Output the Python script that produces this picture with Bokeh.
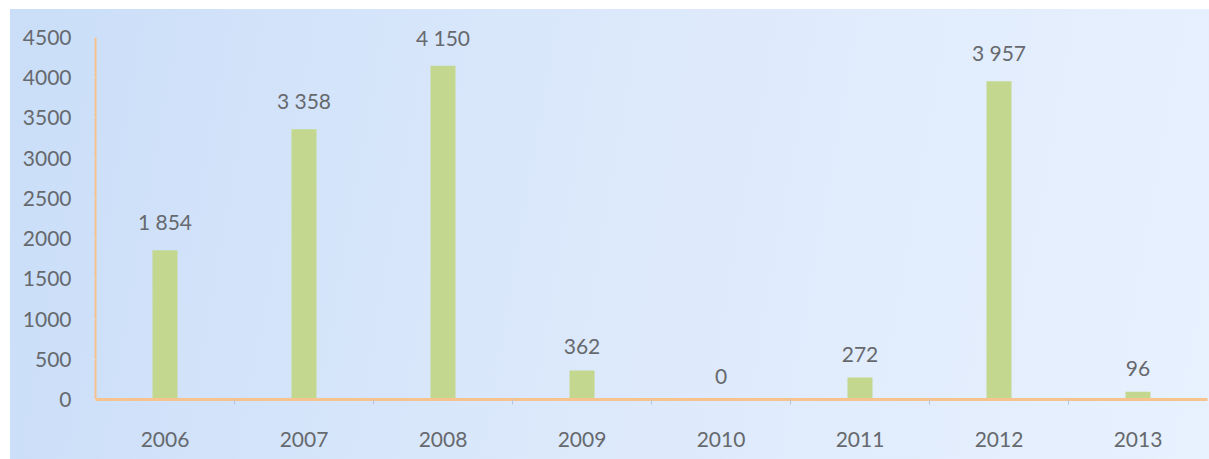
from bokeh.plotting import figure
from bokeh.models import ColumnDataSource, FixedTicker, Range1d, LabelSet
from bokeh.embed import file_html
from bokeh.resources import INLINE
from bokeh.core.properties import value

years = ["2006", "2007", "2008", "2009", "2010", "2011", "2012", "2013"]
counts = [1854, 3358, 4150, 362, 0, 272, 3957, 96]
y_ticks = [0, 500, 1000, 1500, 2000, 2500, 3000, 3500, 4000, 4500]

xs = [i + 0.5 for i in range(len(years))]
labels = [f"{v:,}".replace(",", " ") for v in counts]
src = ColumnDataSource(dict(x=xs, top=counts, label=labels))

FONT = "Lato"
GREY = "#66696d"

# frame extends above the 4500 tick so that top value labels are not clipped
y_top = y_ticks[-1] * 390 / 362

p = figure(width=1199, height=450, output_backend="svg", toolbar_location=None,
           x_range=Range1d(0, len(years)), y_range=Range1d(0, y_top),
           min_border_left=85, min_border_right=2, min_border_top=0, min_border_bottom=60,
           margin=(9, 0, 0, 10),
           styles={"background": "linear-gradient(100deg, #cadef8 0%, #dbe8fb 45%, #e8f1fe 100%)"})
p.background_fill_alpha = 0
p.border_fill_alpha = 0
p.outline_line_color = None
p.grid.visible = False

p.vbar(x="x", top="top", width=0.18, bottom=0, source=src,
       fill_color="#c3d88e", line_color=None)
p.add_layout(LabelSet(x="x", y="top", text="label", source=src, text_align="center",
                      text_baseline="bottom", y_offset=16, text_font=value(FONT),
                      text_font_size="21px", text_color=GREY))

xa = p.xaxis[0]
xa.ticker = FixedTicker(ticks=xs, minor_ticks=list(range(1, len(years))))
xa.major_label_overrides = {x: y for x, y in zip(xs, years)}
xa.major_tick_line_color = None
xa.minor_tick_out = 5
xa.minor_tick_in = 0
xa.minor_tick_line_color = "#b8c4dc"
xa.axis_line_color = "#f6c28e"
xa.axis_line_width = 3
xa.major_label_standoff = 26
xa.major_label_text_font = FONT
xa.major_label_text_font_size = "21px"
xa.major_label_text_color = GREY

ya = p.yaxis[0]
ya.ticker = FixedTicker(ticks=y_ticks)
ya.bounds = (y_ticks[0], y_ticks[-1])
ya.major_tick_out = 4
ya.major_tick_in = 0
ya.major_tick_line_color = "#d9dfe8"
ya.minor_tick_line_color = None
ya.axis_line_color = "#f6c28e"
ya.axis_line_width = 2
ya.major_label_standoff = 20
ya.major_label_text_font = FONT
ya.major_label_text_font_size = "21px"
ya.major_label_text_color = GREY

open("out.html", "w").write(file_html(p, INLINE))
